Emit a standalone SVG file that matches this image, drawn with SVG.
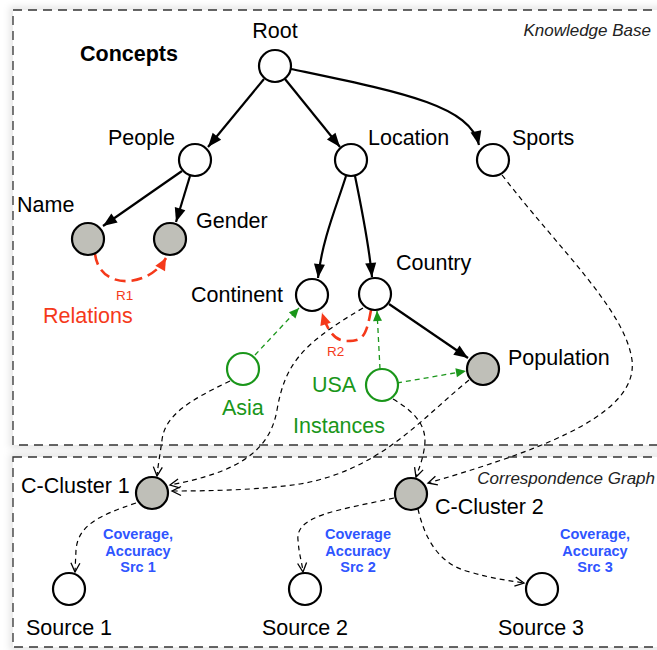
<svg xmlns="http://www.w3.org/2000/svg" width="657" height="650" viewBox="0 0 657 650">
<style>
text{font-family:"Liberation Sans",Arial,sans-serif;fill:#000}
.lbl{font-size:21.5px}
.it{font-size:17px;font-style:italic;fill:#222}
.red{fill:#f5391a}
.grn{fill:#1a961a}
.blue{font-size:14.5px;font-weight:bold;fill:#2f55ff}
.n{fill:#fff;stroke:#000;stroke-width:2.2}
.g{fill:#bfbfb8;stroke:#000;stroke-width:2.2}
.i{fill:#fff;stroke:#1a961a;stroke-width:2.2}
.box{fill:none;stroke:#333;stroke-width:1.3;stroke-dasharray:9 6}
.sh{fill:none;stroke:#000;stroke-opacity:0.1;stroke-width:7}
.e{fill:none;stroke:#000;stroke-width:2.2;marker-end:url(#ab)}
.r{fill:none;stroke:#f5391a;stroke-width:2.6;stroke-dasharray:11 6;marker-end:url(#ar)}
.ge{fill:none;stroke:#1a961a;stroke-width:1.3;stroke-dasharray:5 4;marker-end:url(#ag)}
.d{fill:none;stroke:#000;stroke-width:1.2;stroke-dasharray:5 4;marker-end:url(#ao)}
</style>
<defs>
<filter id="bl" x="-5%" y="-5%" width="110%" height="110%"><feGaussianBlur stdDeviation="3"/></filter>
<marker id="ab" markerUnits="userSpaceOnUse" markerWidth="15" markerHeight="11" refX="14" refY="5.5" orient="auto" overflow="visible"><path d="M0,0 L14,5.5 L0,11 z" fill="#000"/></marker>
<marker id="ar" markerUnits="userSpaceOnUse" markerWidth="13" markerHeight="11" refX="12" refY="5.5" orient="auto" overflow="visible"><path d="M0,0 L12,5.5 L0,11 z" fill="#f5391a"/></marker>
<marker id="ag" markerUnits="userSpaceOnUse" markerWidth="11" markerHeight="9" refX="10" refY="4.5" orient="auto" overflow="visible"><path d="M0,0 L10,4.5 L0,9 z" fill="#1a961a"/></marker>
<marker id="ao" markerUnits="userSpaceOnUse" markerWidth="10" markerHeight="10" refX="9" refY="4.5" orient="auto" overflow="visible"><path d="M0,0 L9,4.5 L0,9" fill="none" stroke="#000" stroke-width="1.3"/></marker>
</defs>
<rect width="657" height="650" fill="#fff"/>
<g id="boxes">
<rect class="sh" x="13" y="10" width="660" height="435" filter="url(#bl)"/>
<rect class="sh" x="13" y="457" width="660" height="190" filter="url(#bl)"/>
<rect x="13" y="10" width="660" height="435" fill="#fff"/>
<rect x="13" y="457" width="660" height="190" fill="#fff"/>
<rect class="box" x="13" y="10" width="660" height="435"/>
<rect class="box" x="13" y="457" width="660" height="190"/>
<text class="it" x="651" y="36" text-anchor="end">Knowledge Base</text>
<text class="it" x="655" y="484" text-anchor="end">Correspondence Graph</text>
</g>
<g id="connectors">
<path class="e" d="M264,79 L208,147"/>
<path class="e" d="M285,79 L340,147"/>
<path class="e" d="M291,69 C400,92 470,105 479,145"/>
<path class="e" d="M182,171 L103,226"/>
<path class="e" d="M190,176 L176,222"/>
<path class="e" d="M346,176 C337,205 322,240 318,278"/>
<path class="e" d="M355,176 C362,210 369,245 372,277"/>
<path class="e" d="M389,304 L468,358"/>
<path class="r" d="M95,254 C100,292 150,287 166,258"/>
<path class="r" d="M371,310 C366,338 362,341 347,341 C335,341 328,332 322,313"/>
<path class="ge" d="M255,355 L299,308"/>
<path class="ge" d="M380,369 L377,311"/>
<path class="ge" d="M397,383 L466,371"/>
<path class="d" d="M230,381 C190,400 165,415 162,440 C160,455 158,465 157,476"/>
<path class="d" d="M363,308 C300,345 285,365 277,410 C270,450 240,472 170,485"/>
<path class="d" d="M469,380 C420,420 380,470 300,484 C260,490 210,491 172,491"/>
<path class="d" d="M393,399 C420,415 428,430 424,450 C422,462 419,468 416,477"/>
<path class="d" d="M502,175 C560,250 625,310 632,360 C638,410 560,445 428,483"/>
<path class="d" d="M136,503 C100,515 78,525 76,550 L75,572"/>
<path class="d" d="M394,498 C340,510 295,515 298,540 C299,555 302,562 303,572"/>
<path class="d" d="M418,509 C425,540 440,565 470,572 C490,578 505,580 524,583"/>
</g>
<g id="concepts-label"><text x="80" y="61" font-size="21.5" font-weight="bold">Concepts</text></g>
<g id="root"><circle class="n" cx="275" cy="66" r="16"/><text class="lbl" x="275" y="38" text-anchor="middle">Root</text></g>
<g id="people"><circle class="n" cx="195" cy="160" r="16"/><text class="lbl" x="108" y="145">People</text></g>
<g id="location"><circle class="n" cx="351" cy="160" r="16"/><text class="lbl" x="368" y="145">Location</text></g>
<g id="sports"><circle class="n" cx="493" cy="160" r="16"/><text class="lbl" x="512" y="145">Sports</text></g>
<g id="name"><circle class="g" cx="88" cy="239" r="16"/><text class="lbl" x="17" y="212">Name</text></g>
<g id="gender"><circle class="g" cx="170" cy="239" r="16"/><text class="lbl" x="196" y="228">Gender</text></g>
<g id="continent"><circle class="n" cx="312" cy="295" r="16"/><text class="lbl" x="191" y="302">Continent</text></g>
<g id="country"><circle class="n" cx="375" cy="294" r="16"/><text class="lbl" x="396" y="270">Country</text></g>
<g id="population"><circle class="g" cx="483" cy="369" r="16"/><text class="lbl" x="508" y="365">Population</text></g>
<g id="asia"><circle class="i" cx="243" cy="369" r="16"/><text class="lbl grn" x="222" y="415">Asia</text></g>
<g id="usa"><circle class="i" cx="382" cy="385" r="16"/><text class="lbl grn" x="312" y="392">USA</text></g>
<g id="relations-labels">
<text class="red" x="116" y="300" font-size="13.5">R1</text>
<text class="lbl red" x="43" y="323">Relations</text>
<text class="red" x="327" y="356" font-size="13.5">R2</text>
<text class="lbl grn" x="293" y="433">Instances</text>
</g>
<g id="c-cluster-1"><circle class="g" cx="152" cy="493" r="16"/><text class="lbl" x="21" y="493">C-Cluster 1</text></g>
<g id="c-cluster-2"><circle class="g" cx="411" cy="494" r="16"/><text class="lbl" x="435" y="514">C-Cluster 2</text></g>
<g id="source-1"><circle class="n" cx="69" cy="589" r="16"/><text class="lbl" x="26" y="635">Source 1</text></g>
<g id="source-2"><circle class="n" cx="305" cy="589" r="16"/><text class="lbl" x="262" y="635">Source 2</text></g>
<g id="source-3"><circle class="n" cx="542" cy="589" r="16"/><text class="lbl" x="498" y="635">Source 3</text></g>
<g id="src-labels">
<text class="blue" text-anchor="middle" x="138" y="539">Coverage,<tspan x="138" y="556">Accuracy</tspan><tspan x="138" y="572">Src 1</tspan></text>
<text class="blue" text-anchor="middle" x="358" y="539">Coverage<tspan x="358" y="556">Accuracy</tspan><tspan x="358" y="572">Src 2</tspan></text>
<text class="blue" text-anchor="middle" x="595" y="539">Coverage,<tspan x="595" y="556">Accuracy</tspan><tspan x="595" y="572">Src 3</tspan></text>
</g>
</svg>
